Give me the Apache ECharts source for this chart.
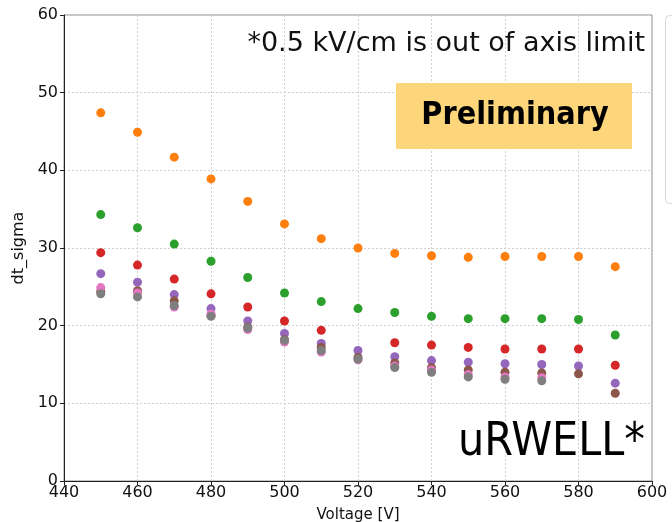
<!DOCTYPE html>
<html>
<head>
<meta charset="utf-8">
<script src="https://cdn.jsdelivr.net/npm/echarts@6/dist/echarts.min.js"></script>
<style>
  html, body { margin: 0; padding: 0; background: #fff; }
  #chart { width: 672px; height: 522px; }
</style>
</head>
<body>
<div id="chart"></div>
<script>
// 横轴电压
var voltages = [450, 460, 470, 480, 490, 500, 510, 520, 530, 540, 550, 560, 570, 580, 590];
// 各组 dt_sigma（null 表示该点缺失）
var orangeVals = [47.4, 44.9, 41.7, 38.9, 36.0, 33.1, 31.2, 30.0, 29.3, 29.0, 28.8, 28.9, 28.9, 28.9, 27.6];
var greenVals  = [34.3, 32.6, 30.5, 28.3, 26.2, 24.2, 23.1, 22.2, 21.7, 21.2, 20.9, 20.9, 20.9, 20.8, 18.8];
var redVals    = [29.4, 27.8, 26.0, 24.1, 22.4, 20.6, 19.4, null, 17.8, 17.5, 17.2, 17.0, 17.0, 17.0, 14.9];
var purpleVals = [26.7, 25.6, 24.0, 22.2, 20.6, 19.0, 17.7, 16.8, 16.0, 15.5, 15.3, 15.1, 15.0, 14.8, 12.6];
var brownVals  = [24.4, 24.5, 23.2, 21.3, 19.8, 18.2, 17.2, 15.9, 15.2, 14.6, 14.3, 14.0, 13.9, 13.8, 11.3];
var pinkVals   = [24.9, 24.2, 22.4, 21.5, 19.5, 17.9, 16.6, 15.6, 14.8, 14.3, 13.7, 13.4, 13.3, null, null];
var grayVals   = [24.1, 23.7, 22.6, 21.2, 19.7, 18.1, 16.8, 15.7, 14.6, 14.0, 13.4, 13.1, 12.9, null, null];

var seriesList = [
    { name: 'orange', color: '#ff7f0e', vals: orangeVals },
    { name: 'green',  color: '#2ca02c', vals: greenVals },
    { name: 'red',    color: '#d62728', vals: redVals },
    { name: 'purple', color: '#9467bd', vals: purpleVals },
    { name: 'brown',  color: '#8c564b', vals: brownVals },
    { name: 'pink',   color: '#e377c2', vals: pinkVals },
    { name: 'gray',   color: '#7f7f7f', vals: grayVals }
];

var font = "'DejaVu Sans', sans-serif";
var condensed = "'DejaVu Sans Condensed', 'DejaVu Sans', sans-serif";

function toPoints(vals) {
    var pts = [];
    for (var i = 0; i < voltages.length; i++) {
        if (vals[i] !== null) pts.push([voltages[i], vals[i]]);
    }
    return pts;
}

var chart = echarts.init(document.getElementById('chart'));
var option = {
    animation: false,
    textStyle: { fontFamily: font },
    grid: {
        left: 64, right: 20, top: 15, bottom: 41,
        outerBoundsMode: 'none',
        containLabel: false,
        show: true, borderColor: '#8a8a8a', borderWidth: 1, backgroundColor: 'transparent'
    },
    xAxis: {
        type: 'value',
        min: 440, max: 600, interval: 20,
        name: 'Voltage [V]',
        nameLocation: 'middle',
        nameGap: 27,
        nameTextStyle: { fontSize: 15, color: '#111', fontFamily: font },
        axisLine: { lineStyle: { color: '#222', width: 1 } },
        axisTick: { show: true, length: 4, lineStyle: { color: '#222' } },
        axisLabel: { fontSize: 16, color: '#111', margin: 4, fontFamily: font },
        splitLine: { show: true, lineStyle: { color: '#d0d0d0', type: [2, 2], width: 1 } }
    },
    yAxis: {
        type: 'value',
        min: 0, max: 60, interval: 10,
        name: 'dt_sigma',
        nameLocation: 'middle',
        nameGap: 23,
        nameTextStyle: { fontSize: 16, color: '#111', fontFamily: font },
        axisLine: { show: true, lineStyle: { color: '#222', width: 1 } },
        axisTick: { show: true, length: 4, lineStyle: { color: '#222' } },
        axisLabel: { fontSize: 16, color: '#111', margin: 6, fontFamily: font },
        splitLine: { show: true, lineStyle: { color: '#d0d0d0', type: [2, 2], width: 1 } }
    },
    graphic: [
        // 右侧被截断的图例框
        {
            type: 'rect', left: 665, top: 15, z: 100,
            shape: { width: 30, height: 188, r: 4 },
            style: { fill: '#fff', stroke: '#d8d8d8', lineWidth: 1 }
        },
        {
            type: 'text', x: 645, y: 44, z: 100,
            style: {
                text: '*0.5 kV/cm is out of axis limit', fontSize: 27, fill: '#111',
                fontFamily: font, align: 'right', verticalAlign: 'middle'
            }
        },
        {
            type: 'rect', left: 396, top: 83, z: 100,
            shape: { width: 236, height: 66 },
            style: { fill: '#fdd67c' }
        },
        {
            type: 'text', x: 515, y: 116, z: 101,
            style: {
                text: 'Preliminary', fontSize: 32, fontWeight: 'bold', fill: '#000',
                fontFamily: condensed, align: 'center', verticalAlign: 'middle'
            }
        },
        {
            type: 'text', x: 645, y: 443, z: 100,
            style: {
                text: 'uRWELL*', fontSize: 46, fill: '#000',
                fontFamily: condensed, align: 'right', verticalAlign: 'middle'
            }
        }
    ],
    series: seriesList.map(function (s) {
        return {
            name: s.name,
            type: 'scatter',
            symbol: 'circle',
            symbolSize: 9,
            itemStyle: { color: s.color, opacity: 1 },
            data: toPoints(s.vals)
        };
    })
};
chart.setOption(option);
</script>
</body>
</html>
